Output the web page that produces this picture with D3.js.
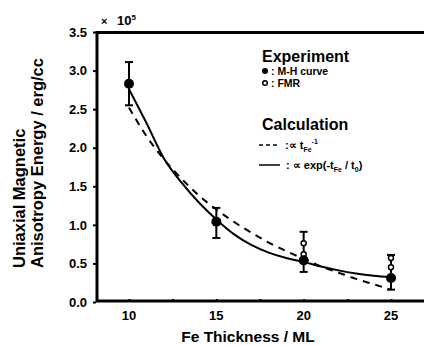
<!DOCTYPE html>
<html>
<head>
<meta charset="utf-8">
<script src="https://cdn.jsdelivr.net/npm/d3@7"></script>
<style>
  body { margin: 0; background: #fff; }
  svg { display: block; font-family: "Liberation Sans", Arial, sans-serif; font-weight: bold; }
</style>
</head>
<body>
<svg id="chart" width="424" height="345"></svg>
<script>
// measured points, units of 1e5 erg/cc
var thickness = [10, 15, 20, 25];
var mhValues = [2.83, 1.04, 0.54, 0.31];
var errLow = [2.55, 0.83, 0.39, 0.16];
var errHigh = [3.11, 1.22, 0.91, 0.61];

var fmrThickness = [20, 20, 25, 25];
var fmrValues = [0.76, 0.62, 0.57, 0.45];

// calculated curves
var curveT = [10, 11, 12, 13, 14, 15, 16, 17, 18, 19, 20, 21, 22, 23, 24, 25];
var inverseFit = [2.52, 2.15, 1.85, 1.6, 1.38, 1.2, 1.04, 0.9, 0.77, 0.66, 0.56, 0.46, 0.38, 0.3, 0.23, 0.16];
var expFit = [2.76, 2.32, 1.86, 1.55, 1.29, 1.07, 0.88, 0.74, 0.64, 0.57, 0.52, 0.46, 0.41, 0.37, 0.34, 0.32];

var xTicks = [10, 15, 20, 25];
var xMinorTicks = [10, 12.5, 15, 17.5, 20, 22.5, 25];
var yTicks = [0, 0.5, 1.0, 1.5, 2.0, 2.5, 3.0, 3.5];

var svg = d3.select("#chart");

var x = d3.scaleLinear().domain([8.11, 26.89]).range([96, 424]),
  y = d3.scaleLinear().domain([0, 3.5]).range([302, 32]);

// curves
var line = d3.line()
  .x((d, i) => x(curveT[i]))
  .y((d) => y(d))
  .curve(d3.curveMonotoneX);

svg.append("path")
  .attr("d", line(inverseFit))
  .attr("fill", "none")
  .attr("stroke", "#000")
  .attr("stroke-width", 2)
  .attr("stroke-dasharray", "7,6");

svg.append("path")
  .attr("d", line(expFit))
  .attr("fill", "none")
  .attr("stroke", "#000")
  .attr("stroke-width", 2);

// error bars
thickness.forEach((t, i) => {
  let cx = x(t);
  svg.append("line")
    .attr("x1", cx).attr("x2", cx)
    .attr("y1", y(errLow[i])).attr("y2", y(errHigh[i]))
    .attr("stroke", "#000").attr("stroke-width", 2);
  [errLow[i], errHigh[i]].forEach((v) => {
    svg.append("line")
      .attr("x1", cx - 4).attr("x2", cx + 4)
      .attr("y1", y(v)).attr("y2", y(v))
      .attr("stroke", "#000").attr("stroke-width", 2);
  });
});

// FMR open circles
svg.selectAll(".fmr")
  .data(fmrValues)
  .enter().append("circle")
    .attr("cx", (d, i) => x(fmrThickness[i]))
    .attr("cy", (d) => y(d))
    .attr("r", 2.5)
    .attr("fill", "#fff")
    .attr("stroke", "#000")
    .attr("stroke-width", 1.5);

// M-H curve filled circles
svg.selectAll(".mh")
  .data(mhValues)
  .enter().append("circle")
    .attr("cx", (d, i) => x(thickness[i]))
    .attr("cy", (d) => y(d))
    .attr("r", 5)
    .attr("fill", "#000");

// axes
var xAxis = svg.append("g")
  .attr("transform", "translate(0,302)")
  .call(d3.axisBottom(x).tickValues(xMinorTicks).tickSize(-3).tickFormat(""));
xAxis.select(".domain").remove();
xAxis.selectAll(".tick line").attr("stroke-width", 2);

xTicks.forEach((t) => {
  svg.append("text")
    .attr("x", x(t))
    .attr("y", 320)
    .attr("text-anchor", "middle")
    .attr("font-size", 13)
    .text(t);
});

var yAxis = svg.append("g")
  .attr("transform", "translate(96,0)")
  .call(d3.axisLeft(y).tickValues(yTicks).tickSize(3).tickPadding(6).tickFormat(d3.format(".1f")));
yAxis.select(".domain").remove();
yAxis.selectAll(".tick line").attr("stroke-width", 2);
yAxis.selectAll(".tick text")
  .attr("font-size", 13)
  .attr("font-family", "Liberation Sans, Arial, sans-serif")
  .attr("font-weight", "bold");

// frame: left, top, bottom
svg.append("path")
  .attr("d", "M424,32.5 H97 V301 H424")
  .attr("fill", "none")
  .attr("stroke", "#000")
  .attr("stroke-width", 3);

// multiplier
svg.append("text")
  .attr("x", 101).attr("y", 25)
  .attr("font-size", 11)
  .text("×");
svg.append("text")
  .attr("x", 117).attr("y", 25)
  .attr("font-size", 13)
  .text("10")
  .append("tspan").attr("dy", -5).attr("font-size", 8).text("5");

// axis titles
svg.append("text")
  .attr("x", 248).attr("y", 342)
  .attr("text-anchor", "middle")
  .attr("font-size", 15.5)
  .text("Fe Thickness / ML");

var yTitle = svg.append("text")
  .attr("transform", "translate(25,268) rotate(-90)")
  .attr("text-anchor", "start")
  .attr("font-size", 16.5);
yTitle.append("tspan").attr("x", 0).attr("y", 0).text("Uniaxial Magnetic");
yTitle.append("tspan").attr("x", 0).attr("y", 18).text("Anisotropy Energy / erg/cc");

// legend
var legend = svg.append("g");
legend.append("text").attr("x", 262).attr("y", 62).attr("font-size", 16).text("Experiment");
legend.append("circle").attr("cx", 265).attr("cy", 71).attr("r", 3).attr("fill", "#000");
legend.append("text").attr("x", 271).attr("y", 75).attr("font-size", 10.5).text(": M-H curve");
legend.append("circle").attr("cx", 265).attr("cy", 83).attr("r", 2.3)
  .attr("fill", "#fff").attr("stroke", "#000").attr("stroke-width", 1.5);
legend.append("text").attr("x", 271).attr("y", 87).attr("font-size", 10.5).text(": FMR");

legend.append("text").attr("x", 262).attr("y", 130).attr("font-size", 16).text("Calculation");
legend.append("line").attr("x1", 259).attr("x2", 280).attr("y1", 145).attr("y2", 145)
  .attr("stroke", "#000").attr("stroke-width", 1.5).attr("stroke-dasharray", "4,3");
var lt1 = legend.append("text").attr("x", 285).attr("y", 149).attr("font-size", 11);
lt1.append("tspan").text(":\u221d t");
lt1.append("tspan").attr("dy", 3).attr("font-size", 7).text("Fe");
lt1.append("tspan").attr("dy", -8).attr("font-size", 7).text("-1");

legend.append("line").attr("x1", 259).attr("x2", 280).attr("y1", 165).attr("y2", 165)
  .attr("stroke", "#000").attr("stroke-width", 1.5);
var lt2 = legend.append("text").attr("x", 286).attr("y", 169).attr("font-size", 11);
lt2.append("tspan").text(": \u221d exp(-t");
lt2.append("tspan").attr("dy", 3).attr("font-size", 7).text("Fe");
lt2.append("tspan").attr("dy", -3).text(" / t");
lt2.append("tspan").attr("dy", 3).attr("font-size", 7).text("0");
lt2.append("tspan").attr("dy", -3).text(")");
</script>
</body>
</html>
